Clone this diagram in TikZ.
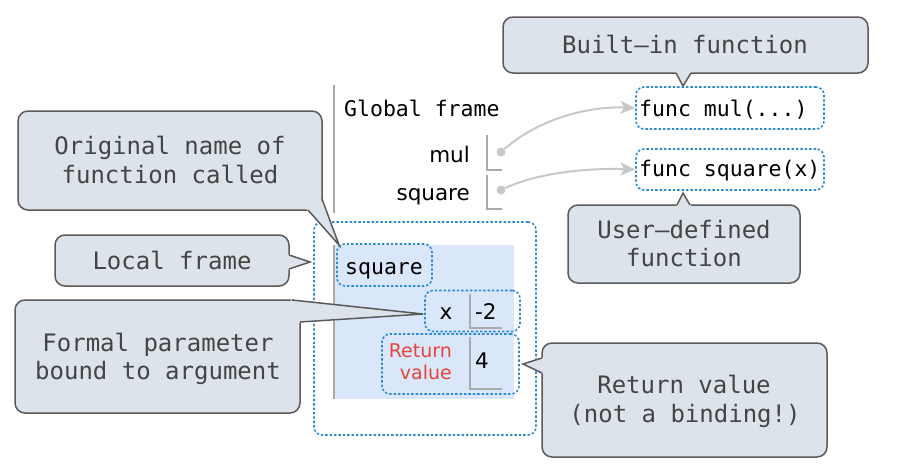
\documentclass[tikz,border=0pt]{standalone}
\usepackage{fontspec}
\newfontfamily\monof{DejaVu Sans Mono}
\newfontfamily\sansf{DejaVu Sans}
\usetikzlibrary{arrows.meta}
\definecolor{callfill}{HTML}{DCE3EA}
\definecolor{callline}{HTML}{5A5A5A}
\definecolor{calltext}{HTML}{444444}
\definecolor{dotblue}{HTML}{2A8AD4}
\definecolor{framefill}{HTML}{DAE6FA}
\definecolor{bindgray}{HTML}{AAAAAA}
\definecolor{arrgray}{HTML}{C8C8C8}
\definecolor{retred}{HTML}{E5453A}
\begin{document}
\begin{tikzpicture}[x=1pt,y=-1pt,
  callout/.style={draw=callline, fill=callfill, line width=1.5pt, rounded corners=10pt},
  ptrfill/.style={fill=callfill},
  ptrside/.style={draw=callline, line width=1.5pt, line join=miter},
  ctext/.style={font=\monof\fontsize{24}{28}\selectfont, text=calltext, inner sep=0pt, anchor=base},
  dotbox/.style={draw=dotblue, line width=1.6pt, dash pattern=on 2.4pt off 2pt, rounded corners=8pt, inner sep=0pt},
  monot/.style={font=\monof\fontsize{21.5}{26}\selectfont, inner sep=0pt, text=black},
  sanst/.style={font=\sansf\fontsize{21.5}{26}\selectfont, inner sep=0pt, text=black},
  redt/.style={font=\sansf\fontsize{19}{23}\selectfont, inner sep=0pt, text=retred, anchor=base east},
  bind/.style={draw=bindgray, line width=1.4pt},
  dot/.style={circle, fill=arrgray, inner sep=0pt, minimum size=9pt},
  garrow/.style={draw=arrgray, line width=2pt, -{Stealth[length=15pt,width=13pt,inset=4pt]}}
]
\useasboundingbox (0,0) rectangle (910,471);

% ---------- local frame ----------
\node[dotbox, minimum width=222pt, minimum height=213pt] (outer) at (425,328.5) {};
\fill[framefill] (334,245) rectangle (514,399);
\coordinate (lftop) at (334,245);
\coordinate (lfbot) at (334,399);
\draw[bind] (lftop) -- (lfbot);

\node[dotbox, minimum width=95pt, minimum height=42pt] (sqlab) at (384.5,265) {};
\node[monot, anchor=base west] (sqtext) at (345,274) {square};

\node[dotbox, minimum width=95pt, minimum height=41pt] (xbind) at (472.5,311) {};
\node[sanst, anchor=base] (xname) at (446,319) {x};
\node[sanst, anchor=base west] (xval) at (475,319) {-2};
\coordinate (xv1) at (470,294); \coordinate (xv2) at (470,328); \coordinate (xv3) at (502,328);
\draw[bind] (xv1) -- (xv2) -- (xv3);

\node[dotbox, minimum width=137pt, minimum height=60pt] (rbind) at (450.5,364) {};
\node[redt] (ret1) at (452,357) {Return};
\node[redt] (ret2) at (452,379) {value};
\node[sanst, anchor=base west] (rval) at (475,368) {4};
\coordinate (rv1) at (470,337); \coordinate (rv2) at (470,389); \coordinate (rv3) at (502,389);
\draw[bind] (rv1) -- (rv2) -- (rv3);

% ---------- global frame ----------
\coordinate (gtop) at (334,85); \coordinate (gbot) at (334,213);
\draw[bind] (gtop) -- (gbot);
\node[monot, anchor=base west] (gf) at (344,116) {Global frame};
\node[sanst, anchor=base east] (mul) at (470,162) {mul};
\node[sanst, anchor=base east] (sq) at (470,200) {square};
\coordinate (b1a) at (487,135); \coordinate (b1b) at (487,170); \coordinate (b1c) at (502,170);
\coordinate (b2a) at (487,175); \coordinate (b2b) at (487,209); \coordinate (b2c) at (502,209);
\draw[bind] (b1a) -- (b1b) -- (b1c);
\draw[bind] (b2a) -- (b2b) -- (b2c);
\node[dot] (d1) at (501,152) {};
\node[dot] (d2) at (501,190) {};

\node[dotbox, minimum width=188pt, minimum height=42pt] (f1) at (730,108) {};
\node[monot, anchor=base west] (f1t) at (639,116) {func mul(...)};
\node[dotbox, minimum width=188pt, minimum height=41pt] (f2) at (730,169.5) {};
\node[monot, anchor=base west] (f2t) at (639,176) {func square(x)};

\draw[garrow] (d1) .. controls (540,118) and (590,106) .. (f1.west);
\draw[garrow] (d2) .. controls (540,172) and (590,168) .. (f2.west);

% ---------- callouts ----------
% Built-in function
\draw[callout] (503,17) rectangle (868,73);
\fill[ptrfill] (675,71) -- (683,86) -- (692,71) -- cycle;
\draw[ptrside] (676,73) -- (683,86) -- (691,73);
\node[ctext] (c1) at (685,53) {Built–in function};

% User-defined function
\draw[callout] (568,205) rectangle (800,283);
\fill[ptrfill] (676,207) -- (683,193) -- (692,207) -- cycle;
\draw[ptrside] (677,205) -- (683,193) -- (690,205);
\node[ctext] (c2a) at (684,238) {User–defined};
\node[ctext] (c2b) at (684,266) {function};

% Original name of function called
\draw[callout] (18,111) rectangle (322,210);
\fill[ptrfill] (305,207.5) -- (339,245) -- (320.3,197.5) -- cycle;
\draw[ptrside] (308,210) -- (339,245) -- (322,199);
\node[ctext] (c3a) at (170,154) {Original name of};
\node[ctext] (c3b) at (170,183) {function called};

% Local frame
\draw[callout] (55,235) rectangle (289,286);
\fill[ptrfill] (287,254) -- (310,262) -- (287,270) -- cycle;
\draw[ptrside] (289,255) -- (310,262) -- (289,269);
\node[ctext] (c4) at (172,269) {Local frame};

% Formal parameter bound to argument
\draw[callout] (15,300) rectangle (300,413);
\fill[ptrfill] (289,302) -- (292,299.5) -- (423,314) -- (300.8,322) -- (298,324) -- (289,324) -- cycle;
\draw[ptrside] (292,300) -- (423,314) -- (300,322);
\node[ctext] (c5a) at (158,351) {Formal parameter};
\node[ctext] (c5b) at (158,379) {bound to argument};

% Return value (not a binding!)
\draw[callout] (542,343) rectangle (827,457);
\fill[ptrfill] (544,357) -- (523,364) -- (544,374) -- cycle;
\draw[ptrside] (542,358) -- (523,364) -- (542,373);
\node[ctext] (c6a) at (684,393) {Return value};
\node[ctext] (c6b) at (685,422) {(not a binding!)};
\end{tikzpicture}
\end{document}
